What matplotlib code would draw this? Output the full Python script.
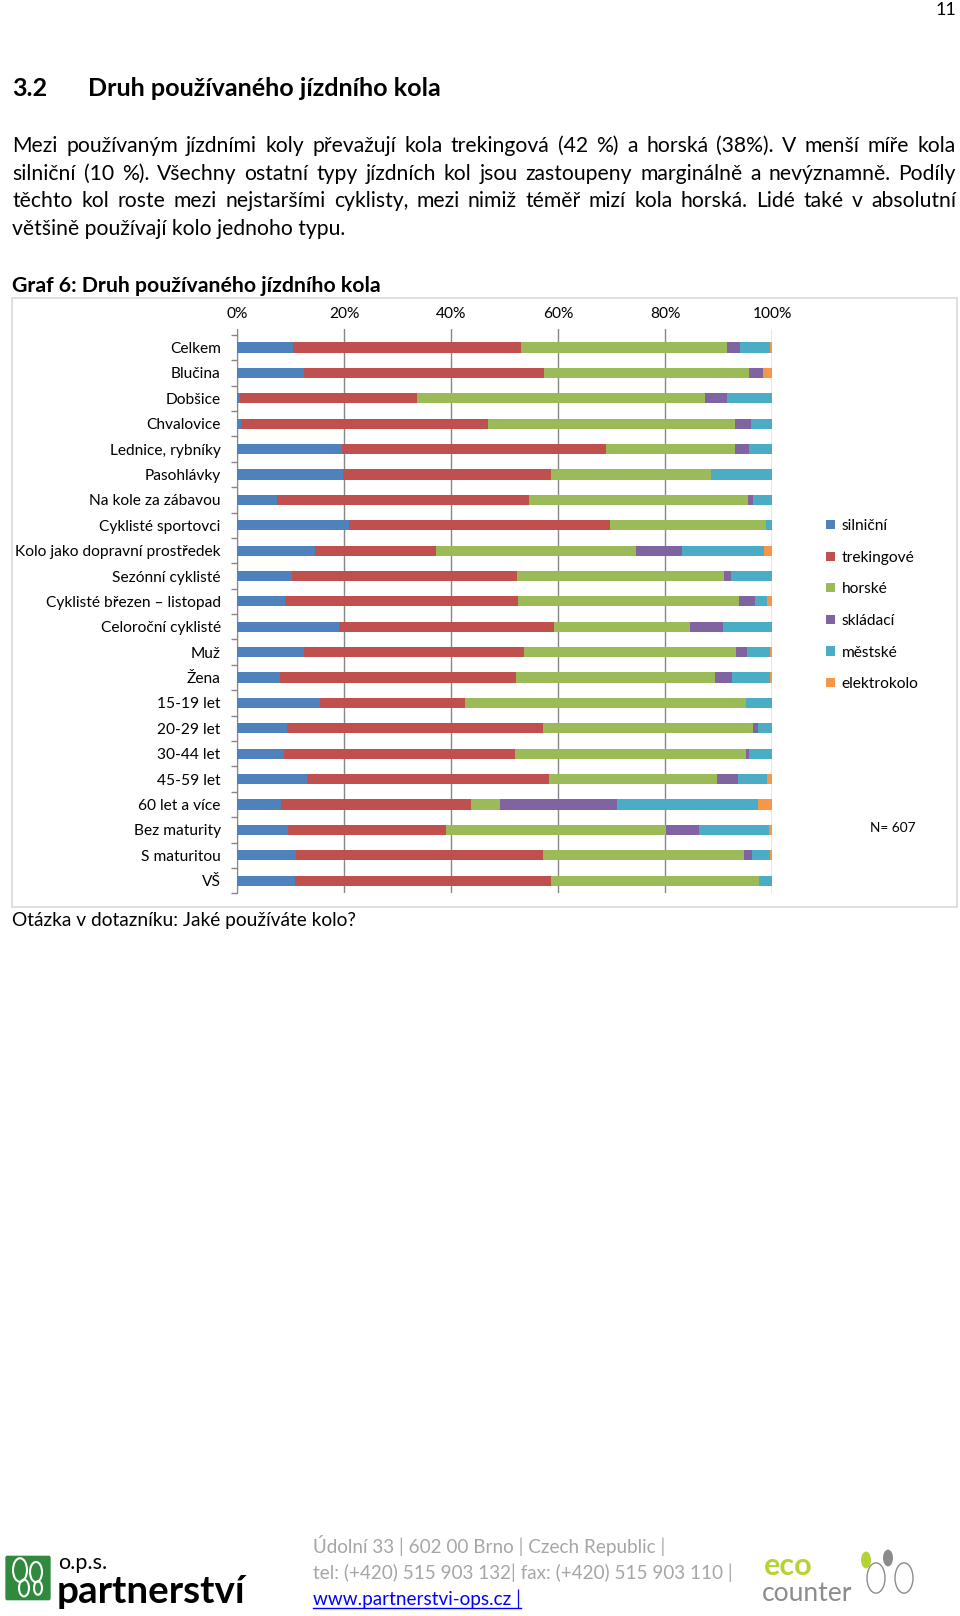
import matplotlib
matplotlib.use("Agg")
import matplotlib.pyplot as plt
import numpy as np
from matplotlib.patches import Rectangle, Circle, FancyBboxPatch
from matplotlib.lines import Line2D

# %%
# Data (shares in %)
categories = [
    "Celkem", "Blučina", "Dobšice", "Chvalovice", "Lednice, rybníky",
    "Pasohlávky", "Na kole za zábavou", "Cyklisté sportovci",
    "Kolo jako dopravní prostředek", "Sezónní cyklisté",
    "Cyklisté březen – listopad", "Celoroční cyklisté", "Muž", "Žena",
    "15-19 let", "20-29 let", "30-44 let", "45-59 let", "60 let a více",
    "Bez maturity", "S maturitou", "VŠ",
]
silnicni = [10.5, 12.5, 0.5, 0.6, 19.6, 19.8, 7.4, 20.9, 14.6, 10.2, 9.0,
            19.1, 12.5, 7.9, 15.5, 9.2, 8.7, 13.1, 8.1, 9.5, 11.0, 10.7]
trekingove = [42.5, 44.8, 33.0, 46.3, 49.3, 38.8, 47.1, 48.8, 22.5, 42.1, 43.5,
              40.1, 41.1, 44.2, 27.1, 47.9, 43.2, 45.2, 35.5, 29.6, 46.1, 47.9]
horske = [38.6, 38.4, 53.9, 46.1, 24.1, 29.9, 40.9, 29.1, 37.5, 38.7, 41.3,
          25.5, 39.6, 37.1, 52.4, 39.2, 43.1, 31.3, 5.5, 41.0, 37.6, 38.9]
skladaci = [2.4, 2.6, 4.1, 3.0, 2.7, 0.0, 0.9, 0.0, 8.6, 1.3, 3.0,
            6.1, 2.0, 3.3, 0.0, 1.0, 0.6, 3.9, 21.9, 6.2, 1.5, 0.0]
mestske = [5.6, 0.0, 8.5, 4.0, 4.3, 11.5, 3.7, 1.2, 15.3, 7.7, 2.3,
           9.2, 4.4, 7.1, 5.0, 2.7, 4.4, 5.6, 26.3, 13.0, 3.4, 2.5]
elektrokolo = [0.4, 1.7, 0.0, 0.0, 0.0, 0.0, 0.0, 0.0, 1.5, 0.0, 0.9,
               0.0, 0.4, 0.4, 0.0, 0.0, 0.0, 0.9, 2.7, 0.7, 0.4, 0.0]

series_names = ["silniční", "trekingové", "horské", "skládací", "městské", "elektrokolo"]
series_colors = ["#4F81BD", "#C0504D", "#9BBB59", "#8064A2", "#4BACC6", "#F79646"]
xtick_values = [0, 0.2, 0.4, 0.6, 0.8, 1.0]
xtick_labels = ["0%", "20%", "40%", "60%", "80%", "100%"]
n_resp = "N= 607"

heading_num = "3.2"
heading = "Druh používaného jízdního kola"
para_lines = [
    "Mezi používaným jízdními koly převažují kola trekingová (42 %) a horská (38%). V menší míře kola",
    "silniční (10 %). Všechny ostatní typy jízdních kol jsou zastoupeny marginálně a nevýznamně. Podíly",
    "těchto kol roste mezi nejstaršími cyklisty, mezi nimiž téměř mizí kola horská. Lidé také v absolutní",
    "většině používají kolo jednoho typu.",
]
graf_title = "Graf 6: Druh používaného jízdního kola"
caption = "Otázka v dotazníku: Jaké používáte kolo?"
footer_lines = [
    "Údolní 33 | 602 00 Brno | Czech Republic |",
    "tel: (+420) 515 903 132| fax: (+420) 515 903 110 |",
]
footer_url = "www.partnerstvi-ops.cz |"

# %%
W, H = 960, 1616
plt.rcParams["font.family"] = ["Lato", "DejaVu Sans"]
fig = plt.figure(figsize=(W / 100, H / 100), dpi=100)
renderer = fig.canvas.get_renderer()


def fx(x):
    return x / W


def fy(y):
    return 1 - y / H


def text_width(s, size, weight="normal"):
    t = fig.text(0, 0, s, fontsize=size, fontweight=weight)
    w = t.get_window_extent(renderer).width
    t.remove()
    return w


def fit_size(s, target, weight="normal"):
    return 10 * target / text_width(s, 10, weight)


def put(x, y, s, size, weight="normal", color="black", ha="left", va="baseline"):
    return fig.text(fx(x), fy(y), s, fontsize=size, fontweight=weight,
                    color=color, ha=ha, va=va)


# page number
put(956, 15, "11", 13, ha="right")

# heading
hs = fit_size(heading, 353, "bold")
put(12.4, 96, heading_num, hs, "bold")
put(87.6, 96, heading, hs, "bold")

# justified paragraph
x0, x1 = 12.4, 956
ps = fit_size(para_lines[-1], 334)
for line in para_lines[:-1]:
    nat = text_width(line, ps)
    if nat > (x1 - x0):
        ps *= (x1 - x0) / nat * 0.98
for i, line in enumerate(para_lines):
    base = 151.7 + i * 27.8
    words = line.split()
    if i == len(para_lines) - 1:
        put(x0, base, line, ps)
        continue
    widths = [text_width(w, ps) for w in words]
    gap = (x1 - x0 - sum(widths)) / (len(words) - 1)
    xx = x0
    for w, wd in zip(words, widths):
        put(xx, base, w, ps)
        xx += wd + gap

# chart title and frame
put(12.4, 291.7, graf_title, fit_size(graf_title, 369, "bold"), "bold")
fig.patches.append(Rectangle((fx(12.4), fy(906.7)), (956.7 - 12.4) / W,
                             (906.7 - 298.3) / H, transform=fig.transFigure,
                             fill=False, edgecolor="#D9D9D9", lw=1.2))

# %%
# Stacked 100 % bar chart
cs = fit_size("Kolo jako dopravní prostředek", 206)
ax = fig.add_axes([fx(237.3), fy(893.3), 535 / W, 564 / H])
data = np.array([silnicni, trekingove, horske, skladaci, mestske, elektrokolo])
shares = data / data.sum(axis=0)
y = np.arange(len(categories))
left = np.zeros(len(categories))
handles = []
for vals, name, col in zip(shares, series_names, series_colors):
    b = ax.barh(y, vals, left=left, height=0.4, color=col, label=name, zorder=3)
    handles.append(b)
    left += vals

ax.set_xlim(0, 1)
ax.set_ylim(21.5, -0.72)
ax.xaxis.set_ticks_position("top")
ax.set_xticks(xtick_values)
ax.set_xticklabels(xtick_labels, fontsize=cs)
ax.tick_params(axis="x", length=0, pad=6)
ax.grid(axis="x", color="#868686", lw=1, zorder=0)
ax.set_yticks(np.arange(-0.5, len(categories), 1))
ax.set_yticklabels([])
ax.tick_params(axis="y", which="major", length=4.5, color="#868686", width=1)
ax.set_yticks(y, minor=True)
ax.set_yticklabels(categories, minor=True, fontsize=cs)
ax.tick_params(axis="y", which="minor", length=0, pad=12)
for s in ["top", "right", "bottom"]:
    ax.spines[s].set_visible(False)
ax.spines["left"].set_color("#868686")

fig.legend(handles, series_names, loc="upper left",
           bbox_to_anchor=(fx(826), fy(519)), frameon=False, fontsize=cs,
           handlelength=0.55, handleheight=0.55, handletextpad=0.45,
           labelspacing=1.14, borderaxespad=0, borderpad=0)
put(893, 828, n_resp, cs * 0.88, ha="center", va="center")

put(12.4, 926, caption, fit_size(caption, 344))

# %%
# Footer
fs = fit_size(footer_lines[1], 420)
put(313, 1553, footer_lines[0], fs, color="#A6A6A6")
put(313, 1579, footer_lines[1], fs, color="#A6A6A6")
put(313, 1605, footer_url, fs, color="#0000FF")
uw = text_width(footer_url, fs)
fig.lines.append(Line2D([fx(313), fx(313 + uw)], [fy(1608), fy(1608)],
                        transform=fig.transFigure, color="#0000FF", lw=1))

# partnerství logo
fig.patches.append(FancyBboxPatch((fx(7), fy(1598)), 42 / W, 40 / H,
                                  boxstyle="round,pad=0.001",
                                  transform=fig.transFigure,
                                  facecolor="#2F8A3E", edgecolor="#2F8A3E"))
for cx, cy, r in [(20, 1570, 7), (36, 1572, 6), (24, 1588, 5), (38, 1588, 4)]:
    fig.patches.append(Circle((fx(cx), fy(cy)), r / W, transform=fig.transFigure,
                              fill=False, edgecolor="white", lw=1.5))
put(58, 1573, "o.p.s.", fit_size("o.p.s.", 49), va="bottom")
put(57, 1574, "partnerství", fit_size("partnerství", 189, "bold"), "bold", va="top")

# eco counter logo
put(764, 1580, "eco", 22, "bold", color="#B5D334", va="bottom")
put(762, 1581, "counter", 19, color="#8C8C8C", va="top")
fig.patches.append(Circle((fx(866), fy(1560)), 5 / W, transform=fig.transFigure,
                          facecolor="#B5D334", edgecolor="none"))
fig.patches.append(Circle((fx(888), fy(1558)), 5 / W, transform=fig.transFigure,
                          facecolor="#8C8C8C", edgecolor="none"))
for cx in [876, 904]:
    fig.patches.append(Circle((fx(cx), fy(1578)), 9 / W, transform=fig.transFigure,
                              fill=False, edgecolor="#8C8C8C", lw=1))

fig.savefig("out.png", dpi=100, facecolor="white")
